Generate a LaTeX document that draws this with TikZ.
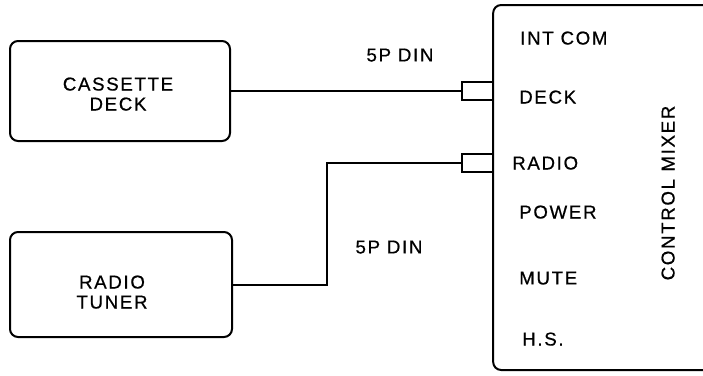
\documentclass[tikz,border=0pt]{standalone}
\usepackage{fontspec}
\setmainfont{Liberation Sans}[LetterSpace=9,FakeBold=0.6]
\begin{document}
\begin{tikzpicture}[x=0.75pt,y=-0.75pt,
  lw/.style={line width=1.5pt},
  unit/.style={draw,lw,rounded corners=6pt,inner sep=0pt},
  conn/.style={draw,line width=1.1pt,inner sep=0pt,minimum width=23pt,minimum height=13.5pt},
  lbl/.style={inner sep=0pt,text depth=0pt,font=\fontsize{14}{15}\selectfont,align=center},
  port/.style={lbl,anchor=west}]
\useasboundingbox (0,0) rectangle (703,375);
\fill[white] (0,0) rectangle (703,375);
% units
\node[unit,minimum width=165pt,minimum height=75pt] (cas) at (120,91) {};
\node[lbl] (castxt) at (118,94) {CASSETTE\\DECK};
\node[unit,minimum width=166.5pt,minimum height=78.75pt] (tun) at (121,284.5) {};
\node[lbl] (tuntxt) at (112,292) {RADIO\\TUNER};
\begin{scope}
\clip (0,0) rectangle (703,375);
\node[unit,minimum width=170pt,minimum height=273.75pt] (mix) at (606.5,187.5) {};
\end{scope}
% connectors (plugs)
\node[conn] (dconn) at (477.5,91) {};
\node[conn] (rconn) at (477.5,163) {};
% cables
\draw[lw] (cas.east) -- (dconn.west);
\coordinate (bend) at (327,284.5);
\draw[lw] (tun.east) -- (bend) |- (rconn.west);
% cable labels
\node[lbl] (din1) at (400,55) {5P DIN};
\node[lbl] (din2) at (389,247) {5P DIN};
% mixer labels
\node[port] (intcom) at (520,38) {INT COM};
\node[port] (deck) at (519,97) {DECK};
\node[port] (radio) at (512,163) {RADIO};
\node[port] (power) at (519,212) {POWER};
\node[port] (mute) at (519,278) {MUTE};
\node[port] (hs) at (522,339) {H.S.};
\node[lbl,rotate=90] (cm) at (668,193) {CONTROL\hspace{0.4em}MIXER};
\end{tikzpicture}
\end{document}
